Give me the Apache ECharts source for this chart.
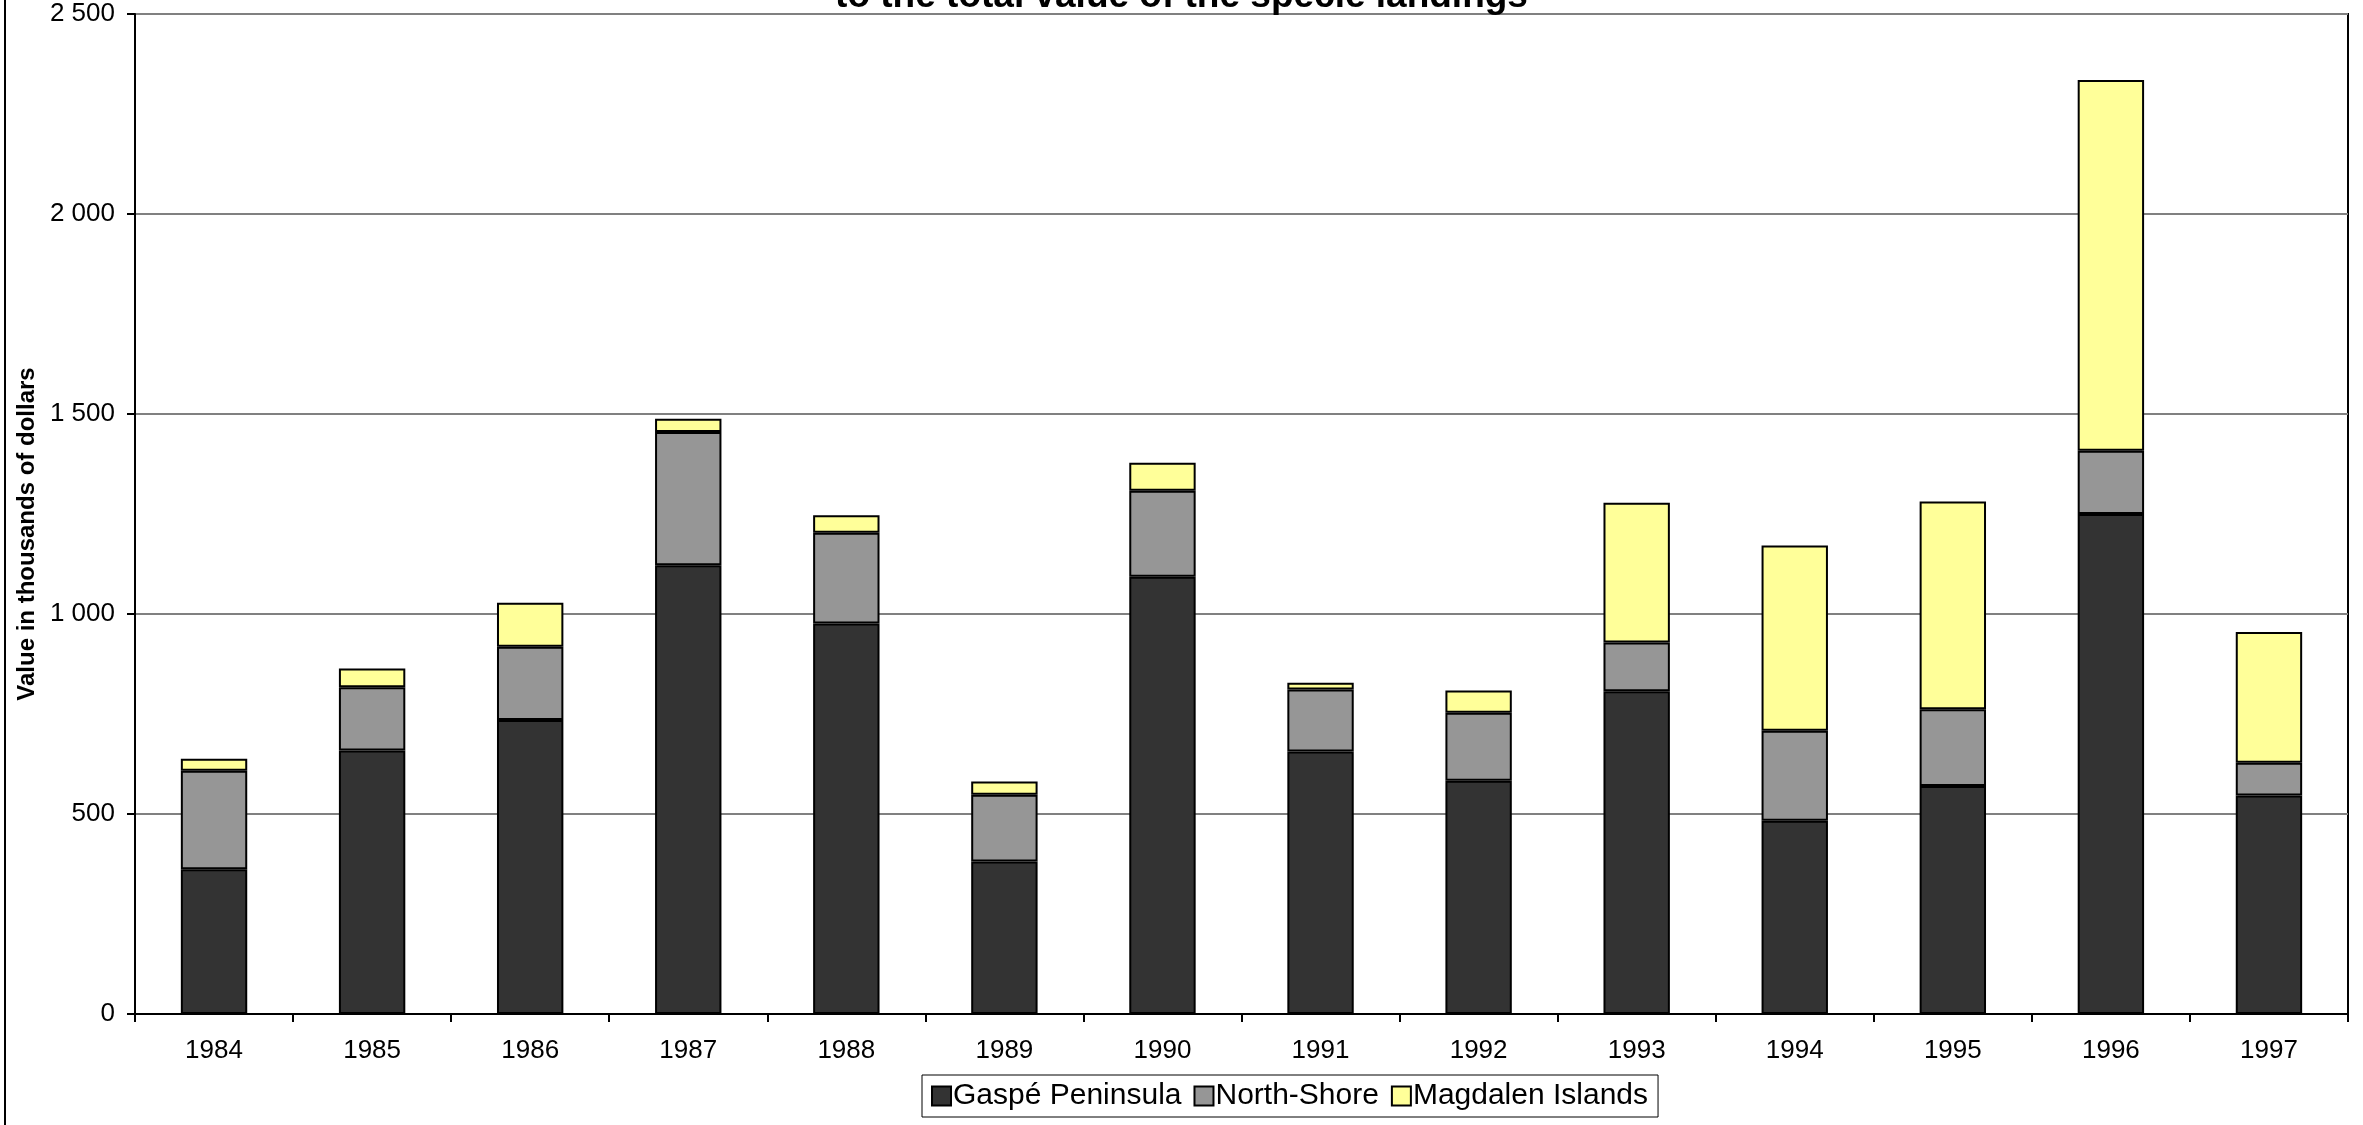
<!DOCTYPE html>
<html>
<head>
<meta charset="utf-8">
<script src="https://cdn.jsdelivr.net/npm/echarts@6/dist/echarts.min.js"></script>
<style>
html,body{margin:0;padding:0;background:#fff;}
#chart{width:2363px;height:1125px;}
</style>
</head>
<body>
<div id="chart"></div>
<script>
const years = ['1984','1985','1986','1987','1988','1989','1990','1991','1992','1993','1994','1995','1996','1997'];
const gaspe = [362, 659, 735, 1122, 976, 381, 1093, 656, 583, 807, 483, 570, 1250, 546];
const northShore = [246, 158, 183, 333, 227, 167, 215, 155, 170, 122, 225, 192, 158, 82];
const magdalen = [30, 47, 110, 33, 44, 33, 70, 17, 56, 349, 463, 519, 927, 327];
const seriesNames = ['Gaspé Peninsula', 'North-Shore', 'Magdalen Islands'];
const titleText = 'to the total value of the specie landings';
const yAxisName = 'Value in thousands of dollars';

const FONT = '"Liberation Sans", Arial, sans-serif';
const chart = echarts.init(document.getElementById('chart'), null, {renderer: 'canvas'});

function fmt(v) {
  return String(v).replace(/\B(?=(\d{3})+(?!\d))/g, ' ');
}

const colors = ['#333333', '#969696', '#FFFF99'];
const values = [gaspe, northShore, magdalen];

chart.setOption({
  animation: false,
  backgroundColor: '#ffffff',
  title: {
    text: titleText,
    left: 'center',
    top: -22,
    padding: 0,
    textStyle: {fontFamily: FONT, fontWeight: 'bold', fontSize: 37, color: '#000'}
  },
  graphic: [{
    type: 'rect',
    shape: {x: 5, y: -20, width: 2400, height: 1200},
    style: {fill: null, stroke: '#000', lineWidth: 2},
    silent: true
  }],
  legend: {
    data: seriesNames,
    left: 922,
    top: 1075,
    orient: 'horizontal',
    itemWidth: 19,
    itemHeight: 19,
    itemGap: 12,
    padding: [6, 10, 6, 9],
    borderColor: '#000',
    borderWidth: 1,
    backgroundColor: '#fff',
    textStyle: {fontFamily: FONT, fontSize: 30, color: '#000', padding: [0, 0, 0, -3]},
    icon: 'rect'
  },
  grid: {left: 135, right: 15, top: 14, bottom: 111, show: true, borderColor: '#000', borderWidth: 2, backgroundColor: 'transparent', outerBoundsMode: 'none', containLabel: false},
  xAxis: {
    type: 'category',
    data: years,
    boundaryGap: true,
    axisLine: {show: true, lineStyle: {color: '#000', width: 2}},
    axisTick: {show: true, alignWithLabel: false, length: 8, lineStyle: {color: '#000', width: 2}},
    axisLabel: {fontFamily: FONT, fontSize: 26, color: '#000', margin: 24},
    splitLine: {show: false}
  },
  yAxis: {
    type: 'value',
    min: 0,
    max: 2500,
    interval: 500,
    name: yAxisName,
    nameLocation: 'middle',
    nameGap: 95,
    nameRotate: 90,
    nameTextStyle: {fontFamily: FONT, fontWeight: 'bold', fontSize: 24, color: '#000', padding: [0, 40, 0, 0]},
    axisLine: {show: true, lineStyle: {color: '#000', width: 2}},
    axisTick: {show: true, length: 8, lineStyle: {color: '#000', width: 2}},
    axisLabel: {fontFamily: FONT, fontSize: 26, color: '#000', margin: 20, formatter: fmt},
    splitLine: {show: true, lineStyle: {color: '#808080', width: 2}}
  },
  series: seriesNames.map((name, i) => ({
    name: name,
    type: 'bar',
    stack: 'total',
    data: values[i],
    barCategoryGap: '58%',
    itemStyle: {color: colors[i], borderColor: '#000', borderWidth: 2}
  }))
});
</script>
</body>
</html>
